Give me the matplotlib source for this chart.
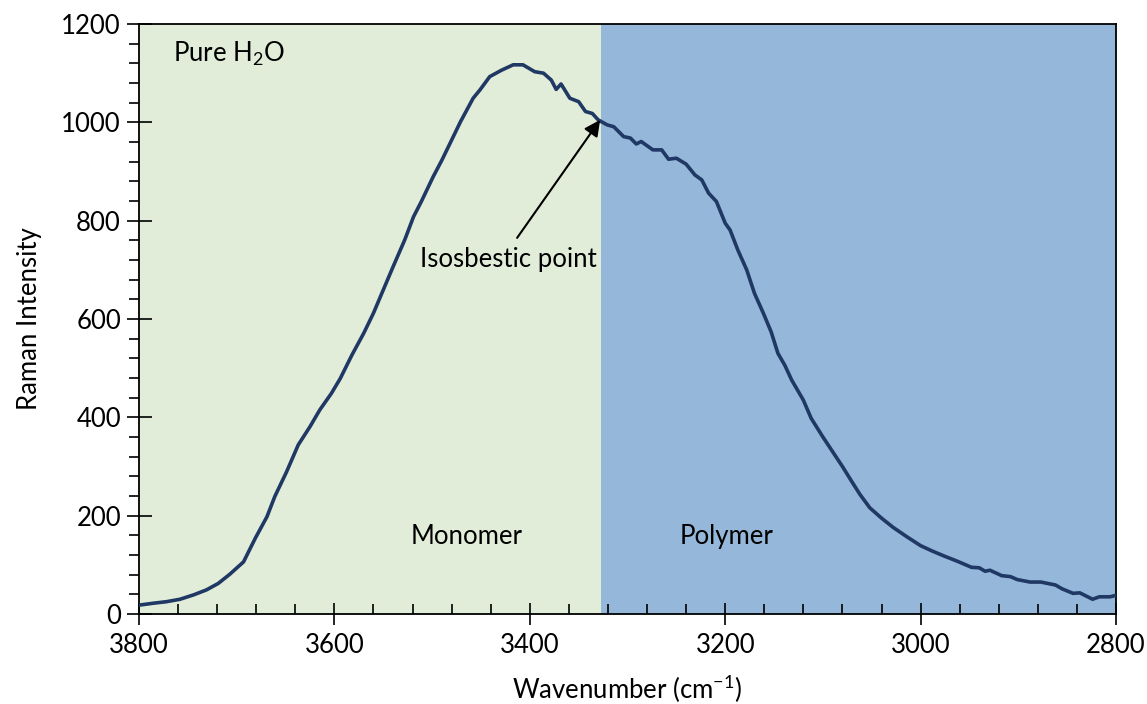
import matplotlib
matplotlib.use("Agg")
import matplotlib.pyplot as plt
from matplotlib.ticker import MultipleLocator

plt.rcParams['font.family'] = ['Lato', 'DejaVu Sans']
plt.rcParams['mathtext.fontset'] = 'custom'
plt.rcParams['mathtext.rm'] = 'Lato'

wavenumber = [3800, 3785, 3772, 3758, 3744, 3731, 3719, 3707, 3693, 3681, 3669, 3661,
              3649, 3637, 3625, 3615, 3603, 3594, 3582, 3570, 3560, 3553, 3540, 3528,
              3519, 3511, 3499, 3490, 3480, 3471, 3458, 3451, 3441, 3429, 3417, 3407,
              3395, 3386, 3378, 3373, 3368, 3359, 3350, 3343, 3336, 3330, 3321, 3314,
              3304, 3297, 3291, 3286, 3274, 3265, 3258, 3250, 3240, 3231, 3224, 3217,
              3209, 3200, 3195, 3187, 3178, 3170, 3161, 3153, 3146, 3139, 3132, 3120,
              3112, 3100, 3090, 3080, 3070, 3062, 3052, 3040, 3028, 3014, 3000, 2988,
              2976, 2962, 2948, 2940, 2934, 2929, 2917, 2908, 2901, 2888, 2877, 2862,
              2855, 2844, 2837, 2824, 2817, 2806, 2800]
intensity = [18, 22, 25, 30, 39, 49, 62, 81, 106, 154, 198, 239,
             289, 344, 381, 415, 449, 479, 527, 571, 612, 645, 706, 761,
             808, 839, 889, 923, 964, 1001, 1049, 1066, 1093, 1106, 1117, 1117,
             1103, 1100, 1086, 1067, 1078, 1049, 1042, 1022, 1018, 1005, 995, 991,
             971, 968, 956, 961, 944, 944, 925, 927, 915, 893, 883, 856,
             839, 795, 781, 740, 700, 652, 612, 574, 530, 506, 476, 435,
             398, 360, 330, 300, 268, 243, 216, 195, 176, 157, 139, 128,
             118, 107, 95, 94, 87, 89, 78, 76, 70, 65, 65, 59,
             51, 42, 43, 30, 35, 35, 38]

region_bounds = [3800, 3327, 2800]
region_names = ['Monomer', 'Polymer']
isosbestic = (3328, 1005)

FS = 18.5

fig = plt.figure(figsize=(11.47, 7.04), dpi=100)
ax = fig.add_axes([139/1147, 90/704, (1116-139)/1147, (614-24)/704])

ax.axvspan(region_bounds[0], region_bounds[1], color='#E2EDD9', zorder=0, lw=0)
ax.axvspan(region_bounds[1], region_bounds[2], color='#95B7DA', zorder=0, lw=0)

ax.plot(wavenumber, intensity, color='#1F3864', lw=2.6, zorder=3,
        solid_joinstyle='round', solid_capstyle='round')

ax.set_xlim(3800, 2800)
ax.set_ylim(0, 1200)
ax.xaxis.set_major_locator(MultipleLocator(200))
ax.xaxis.set_minor_locator(MultipleLocator(40))
ax.yaxis.set_major_locator(MultipleLocator(200))
ax.yaxis.set_minor_locator(MultipleLocator(40))
ax.tick_params(axis='x', which='major', direction='inout', length=16, width=1.2,
               labelsize=FS, pad=6)
ax.tick_params(axis='x', which='minor', direction='in', length=7, width=1.2)
ax.tick_params(axis='y', which='major', direction='inout', length=18, width=1.2,
               labelsize=FS, pad=4)
ax.tick_params(axis='y', which='minor', direction='out', length=7, width=1.2)
for s in ax.spines.values():
    s.set_linewidth(1.3)

ax.set_xlabel(r'Wavenumber (cm$^{\mathregular{-1}}$)', fontsize=FS, labelpad=10)
ax.set_ylabel('Raman Intensity', fontsize=FS, labelpad=14)

ax.text(3765, 1140, r'Pure H$_{\mathregular{2}}$O', fontsize=FS, va='center', ha='left')
ax.text(3465, 158, region_names[0], fontsize=FS, ha='center', va='center')
ax.text(3199, 158, region_names[1], fontsize=FS, ha='center', va='center')
ax.text(3422, 720, 'Isosbestic point', fontsize=FS, ha='center', va='center')
ax.annotate('', xy=isosbestic, xytext=(3413, 765),
            arrowprops=dict(arrowstyle='-|>', color='black', lw=1.5,
                            mutation_scale=24, shrinkA=0, shrinkB=0))

fig.savefig('out.png', dpi=100)
